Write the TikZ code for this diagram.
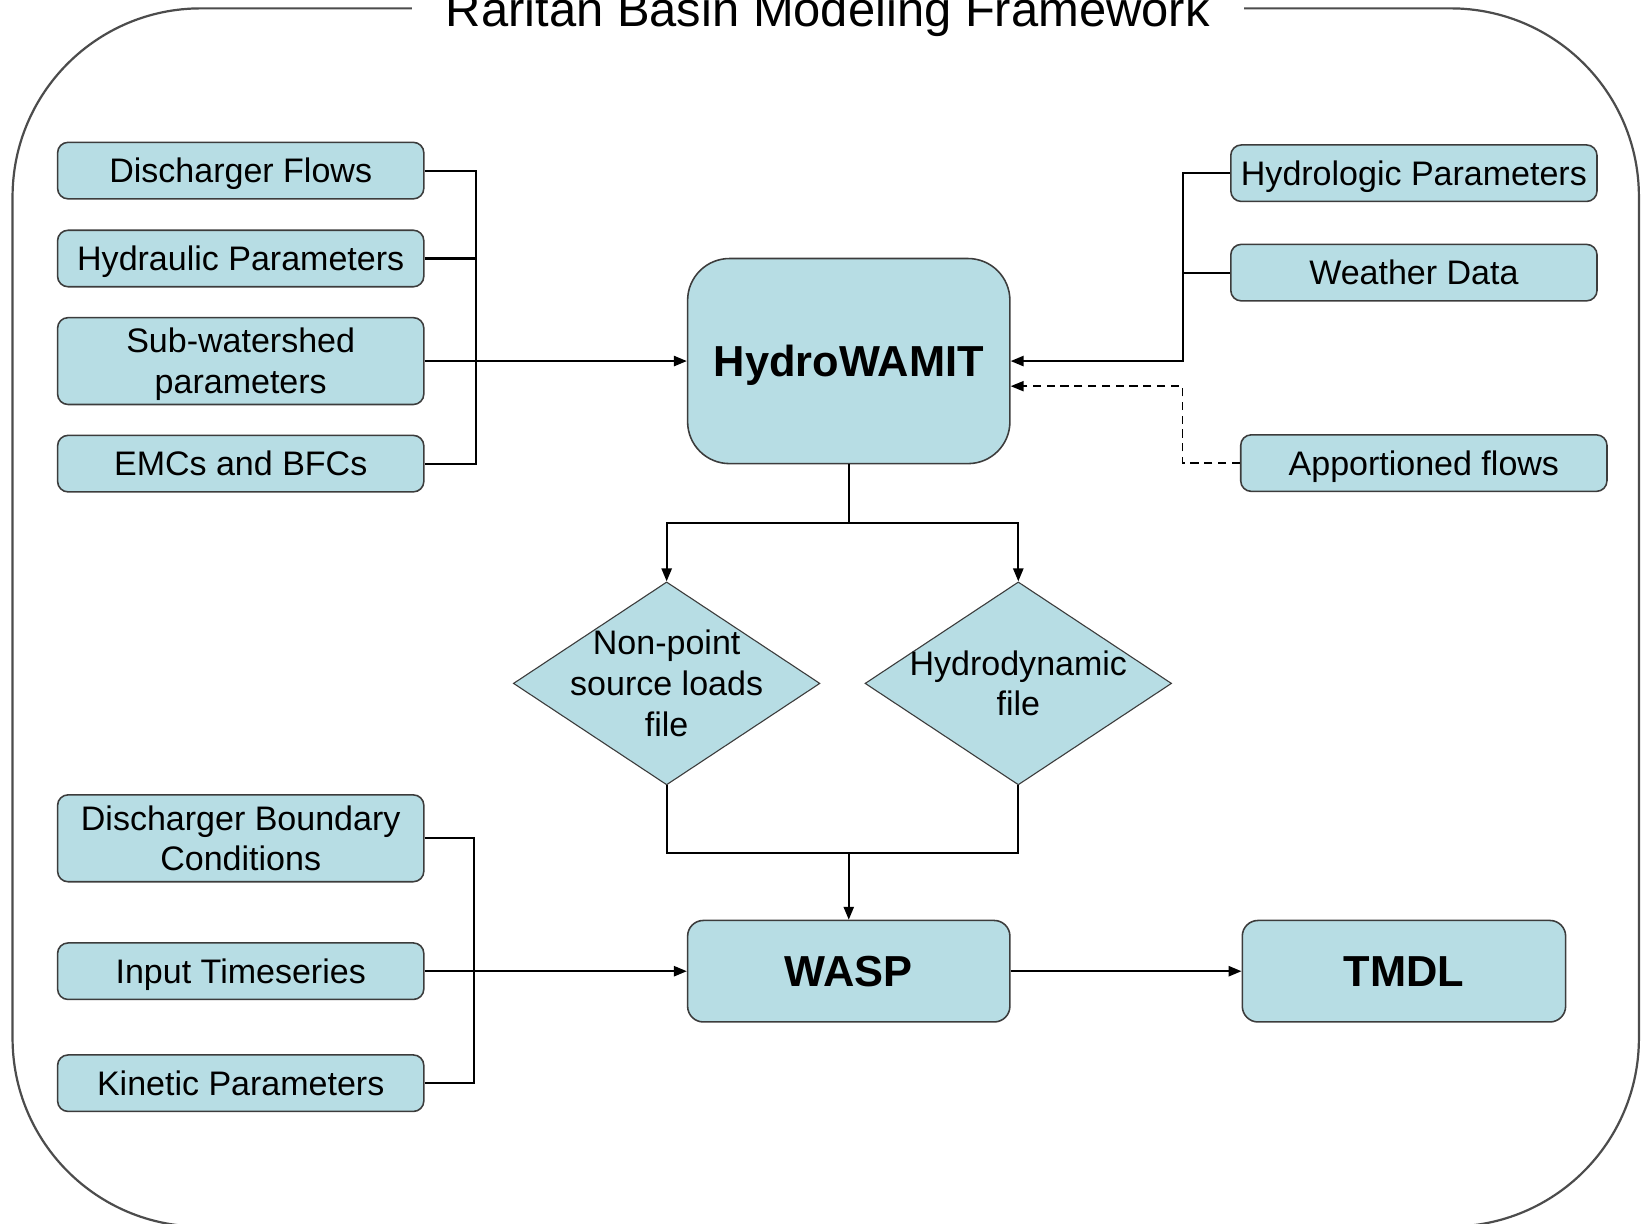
\documentclass[tikz,border=0pt]{standalone}
\usepackage{fontspec}
\setmainfont{Liberation Sans}
\usetikzlibrary{shapes.geometric,arrows.meta}
\definecolor{boxblue}{RGB}{183,221,228}
\definecolor{edgegray}{RGB}{60,60,60}
\begin{document}
\begin{tikzpicture}[x=0.02cm,y=-0.02cm,
  inbox/.style={draw=edgegray,line width=0.85pt,fill=boxblue,rounded corners=0.2cm,minimum width=7cm,minimum height=1.08cm,inner sep=0pt,align=center,text height=13.25pt,text depth=0pt,font=\fontsize{18.5}{22.2}\selectfont},
  tallbox/.style={inbox,minimum height=1.66cm,text height=35.45pt},
  model/.style={draw=edgegray,line width=0.85pt,fill=boxblue,inner sep=0pt,text height=16.9pt,text depth=0pt,font=\fontsize{23.6}{28}\selectfont\bfseries},
  filebox/.style={diamond,draw=edgegray,line width=0.6pt,fill=boxblue,minimum width=5.86cm,minimum height=3.88cm,inner sep=0pt},
  filetext/.style={align=center,inner sep=0pt,text depth=0pt,font=\fontsize{18.5}{22.2}\selectfont},
  link/.style={line width=1.1pt},
  arr/.style={link,-{Triangle[length=7pt,width=5.5pt]}}]
\useasboundingbox (0,0) rectangle (1568,1169);
\fill[white] (0,0) rectangle (1568,1169);
\draw[line width=1.2pt,gray!60!black,rounded corners=3.6cm] (12,8) rectangle (1566,1172);
\node (title) at (791,25) [anchor=base,fill=white,inner xsep=0.65cm,inner ysep=0.1cm,font=\fontsize{26.6}{32}\selectfont] {Raritan Basin Modeling Framework};
\node (dflow) at (230,163) [inbox] {Discharger Flows};
\node (hydp) at (230,247) [inbox] {Hydraulic Parameters};
\node (subw) at (230,345) [tallbox] {Sub-watershed\\parameters};
\node (emcs) at (230,443) [inbox] {EMCs and BFCs};
\node (hlgp) at (1351,165.5) [inbox] {Hydrologic Parameters};
\node (wthr) at (1351,260.5) [inbox] {Weather Data};
\node (appf) at (1360.5,442.5) [inbox] {Apportioned flows};
\node (hydro) at (811,345) [model,rounded corners=0.8cm,minimum width=6.16cm,minimum height=3.92cm] {HydroWAMIT};
\node (nps) at (637,653) [filebox] {};
\node (hdf) at (973,653) [filebox] {};
\node (npstext) at (nps) [filetext,text height=57.65pt] {Non-point\\source loads\\file};
\node (hdftext) at (hdf) [filetext,text height=35.45pt] {Hydrodynamic\\file};
\node (dbc) at (230,801) [tallbox] {Discharger Boundary\\Conditions};
\node (its) at (230,928) [inbox] {Input Timeseries};
\node (kin) at (230,1035) [inbox] {Kinetic Parameters};
\node (wasp) at (811,928) [model,rounded corners=0.3cm,minimum width=6.16cm,minimum height=1.94cm] {WASP};
\node (tmdl) at (1341.5,928) [model,rounded corners=0.3cm,minimum width=6.18cm,minimum height=1.94cm] {TMDL};
\coordinate (lbus) at (455,300);
\coordinate (rbus) at (1130,345);
\coordinate (dbend) at (1130,369);
\coordinate (split) at (811,500);
\coordinate (join) at (811,815);
\coordinate (bbus) at (453,900);
\draw[link] (dflow.east) -| (lbus) |- (emcs.east);
\draw[link] (hydp.east) -- (hydp.east -| lbus);
\draw[arr] (subw.east) -- (hydro.west);
\draw[arr] (hlgp.west) -| (rbus) -- (hydro.east);
\draw[link] (wthr.west) -- (wthr.west -| rbus);
\draw[arr,line width=0.8pt,dash pattern=on 4.5pt off 3pt] (appf.west) -| (dbend) -- (dbend -| hydro.east);
\draw[link] (hydro.south) -- (split);
\draw[arr] (split) -| (nps.north);
\draw[arr] (split) -| (hdf.north);
\draw[link] (nps.south) |- (join) -| (hdf.south);
\draw[arr] (join) -- (wasp.north);
\draw[link] (dbc.east) -| (bbus) |- (kin.east);
\draw[arr] (its.east) -- (wasp.west);
\draw[arr] (wasp.east) -- (tmdl.west);
\end{tikzpicture}
\end{document}
